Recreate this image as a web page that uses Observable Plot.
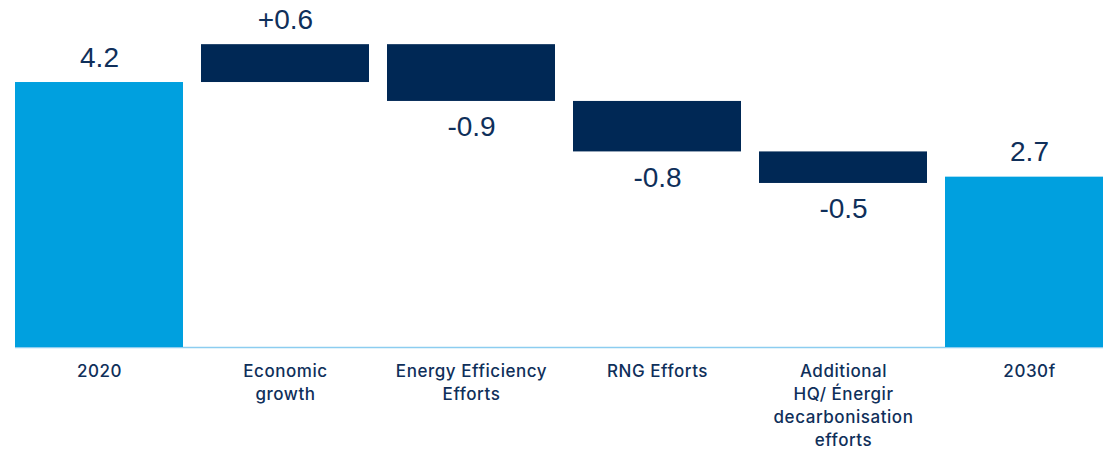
<!DOCTYPE html>
<html>
<head>
<meta charset="utf-8">
<script src="https://cdn.jsdelivr.net/npm/d3@7"></script>
<script src="https://cdn.jsdelivr.net/npm/@observablehq/plot@0.6"></script>
<style>
  html, body { margin: 0; padding: 0; background: #fff; }
  #chart { width: 1103px; height: 451px; overflow: hidden; }
</style>
</head>
<body>
<div id="chart"></div>
<script>
// Waterfall: start total, step changes, end total
const categories = [
  "2020",
  "Economic\ngrowth",
  "Energy Efficiency\nEfforts",
  "RNG Efforts",
  "Additional\nHQ/ Énergir\ndecarbonisation\nefforts",
  "2030f"
];
const startValue = 4.2;
const changes = [0.6, -0.9, -0.8, -0.5];
const endValue = 2.7;

const totalColor = "#00a0df";
const stepColor = "#002855";
const textColor = "#0f2f5a";

// Build bar rows from the values
const totals = [
  {cat: categories[0], y1: 0, y2: startValue, label: startValue.toFixed(1), above: true},
  {cat: categories[5], y1: 0, y2: endValue, label: endValue.toFixed(1), above: true}
];
const steps = [];
let level = startValue;
changes.forEach((c, i) => {
  const from = level, to = level + c;
  steps.push({
    cat: categories[i + 1],
    y1: Math.min(from, to),
    y2: Math.max(from, to),
    label: (c > 0 ? "+" : "") + c.toFixed(1),
    above: c > 0
  });
  level = to;
});
const bars = [...totals, ...steps];

const chart = Plot.plot({
  width: 1103,
  height: 451,
  marginTop: 0,
  marginBottom: 104,
  marginLeft: 15,
  marginRight: 0,
  x: {domain: categories, range: [15, 1113], paddingInner: 18 / 186, paddingOuter: 0, axis: null},
  y: {domain: [0, 5.5], axis: null},
  marks: [
    Plot.ruleY([0], {stroke: "#8ccdf0", strokeWidth: 1.5}),
    Plot.barY(totals, {x: "cat", y1: "y1", y2: "y2", fill: totalColor}),
    Plot.barY(steps, {x: "cat", y1: "y1", y2: "y2", fill: stepColor}),
    Plot.text(bars.filter(d => d.above), {
      x: "cat", y: "y2", text: "label", dy: -16, lineAnchor: "bottom",
      fill: textColor, fontSize: 28, fontFamily: "Liberation Sans, Arial, sans-serif"
    }),
    Plot.text(bars.filter(d => !d.above), {
      x: "cat", y: "y1", text: "label", dy: 15, lineAnchor: "top",
      fill: textColor, fontSize: 28, fontFamily: "Liberation Sans, Arial, sans-serif"
    }),
    Plot.text(categories, {
      x: d => d, y: () => 0, text: d => d, dy: 13, lineAnchor: "top", lineHeight: 1.36,
      fill: textColor, fontSize: 17, fontWeight: 500, fontFamily: "Inter, sans-serif"
    })
  ]
});
// Slightly tracked-out category labels
d3.select(chart).selectAll('g[font-size="17"] text').style("letter-spacing", "0.55px");
document.getElementById("chart").appendChild(chart);
</script>
</body>
</html>
